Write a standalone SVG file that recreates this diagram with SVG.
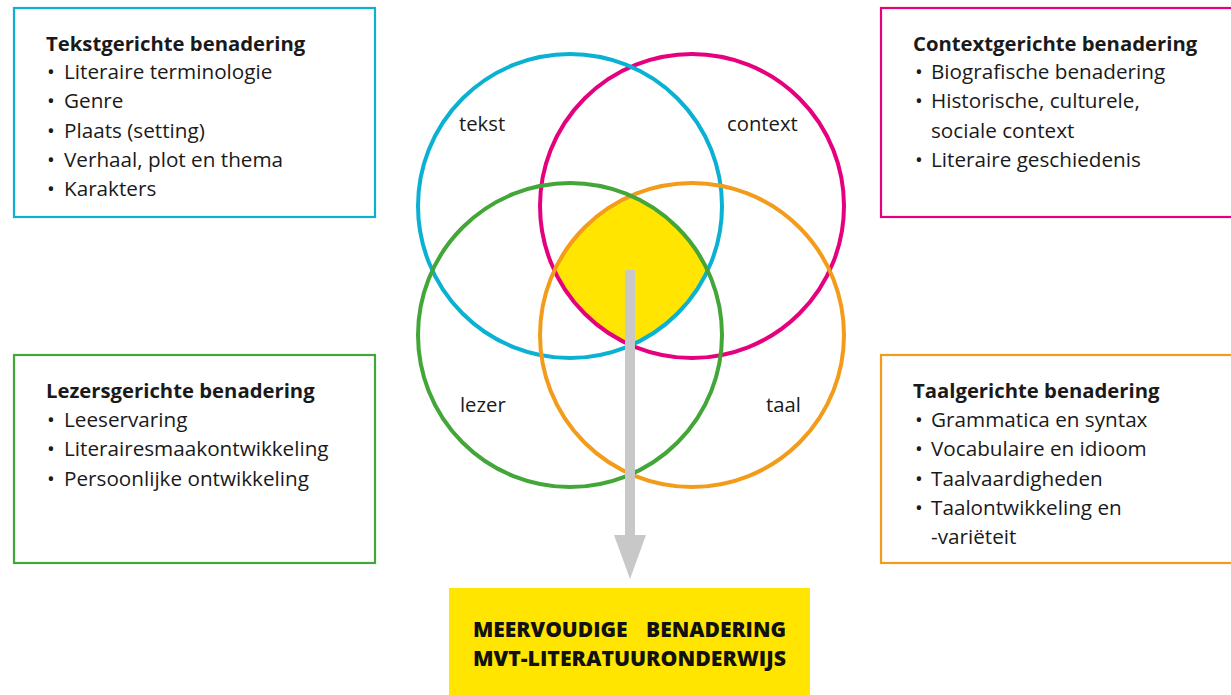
<svg xmlns="http://www.w3.org/2000/svg" width="1231" height="695" viewBox="0 0 1231 695">
  <style>
    text { font-family: "Open Sans", "Noto Sans", "Liberation Sans", sans-serif; fill: #1a1a1a; }
    .box { fill: #ffffff; stroke-width: 2.2; }
    .title { font-size: 20.3px; font-weight: 700; }
    .item { font-size: 20.7px; }
    .lbl { font-size: 20.3px; }
    .ring { fill: none; stroke-width: 4; }
    .big { font-size: 21px; font-weight: 800; fill: #111; }
  </style>
  <defs>
    <clipPath id="cTekst"><circle cx="570" cy="206" r="152"/></clipPath>
    <clipPath id="cContext" clip-path="url(#cTekst)"><circle cx="692" cy="206" r="152"/></clipPath>
    <clipPath id="cLezer" clip-path="url(#cContext)"><circle cx="570" cy="335" r="152"/></clipPath>
    <clipPath id="cCore" clip-path="url(#cLezer)"><circle cx="692" cy="335" r="152"/></clipPath>
  </defs>

  <rect width="1231" height="695" fill="#ffffff"/>

  <!-- shared core of the four approaches -->
  <g id="core">
    <rect x="400" y="40" width="460" height="460" fill="#FFE500" clip-path="url(#cCore)"/>
  </g>

  <!-- four overlapping approach circles -->
  <g id="venn">
    <g id="circle-context"><circle class="ring" cx="692" cy="206" r="152" stroke="#E5007E"/>
      <text class="lbl" x="727" y="131">context</text></g>
    <g id="circle-tekst"><circle class="ring" cx="570" cy="206" r="152" stroke="#0BB1D3"/>
      <text class="lbl" x="459" y="131">tekst</text></g>
    <g id="circle-taal"><circle class="ring" cx="692" cy="335" r="152" stroke="#F39C1B"/>
      <text class="lbl" x="766" y="412">taal</text></g>
    <g id="circle-lezer"><circle class="ring" cx="570" cy="335" r="152" stroke="#43A638"/>
      <text class="lbl" x="460" y="412">lezer</text></g>
  </g>

  <!-- connector from the core to the result -->
  <g id="connectors">
    <rect x="625" y="270" width="10" height="266" fill="#C8C8C8"/>
    <polygon points="614,535 646,535 630,579" fill="#C8C8C8"/>
  </g>

  <g id="box-tekst">
    <rect class="box" x="14" y="8" width="361" height="209" stroke="#0BB1D3"/>
    <text class="title" x="46" y="51">Tekstgerichte benadering</text>
    <g class="item">
      <text x="47" y="79">•</text><text x="64" y="79">Literaire terminologie</text>
      <text x="47" y="108">•</text><text x="64" y="108">Genre</text>
      <text x="47" y="138">•</text><text x="64" y="138">Plaats (setting)</text>
      <text x="47" y="167">•</text><text x="64" y="167">Verhaal, plot en thema</text>
      <text x="47" y="196">•</text><text x="64" y="196">Karakters</text>
    </g>
  </g>

  <g id="box-context">
    <rect class="box" x="881" y="8" width="360" height="209" stroke="#E5007E"/>
    <text class="title" x="913" y="51">Contextgerichte benadering</text>
    <g class="item">
      <text x="915" y="79">•</text><text x="931" y="79">Biografische benadering</text>
      <text x="915" y="108">•</text><text x="931" y="108">Historische, culturele,</text>
      <text x="931" y="138">sociale context</text>
      <text x="915" y="167">•</text><text x="931" y="167">Literaire geschiedenis</text>
    </g>
  </g>

  <g id="box-lezer">
    <rect class="box" x="14" y="355" width="361" height="208" stroke="#43A638"/>
    <text class="title" x="46" y="398">Lezersgerichte benadering</text>
    <g class="item">
      <text x="47" y="427">•</text><text x="64" y="427">Leeservaring</text>
      <text x="47" y="456">•</text><text x="64" y="456">Literairesmaakontwikkeling</text>
      <text x="47" y="486">•</text><text x="64" y="486">Persoonlijke ontwikkeling</text>
    </g>
  </g>

  <g id="box-taal">
    <rect class="box" x="881" y="355" width="360" height="208" stroke="#F39C1B"/>
    <text class="title" x="913" y="398">Taalgerichte benadering</text>
    <g class="item">
      <text x="915" y="427">•</text><text x="931" y="427">Grammatica en syntax</text>
      <text x="915" y="456">•</text><text x="931" y="456">Vocabulaire en idioom</text>
      <text x="915" y="486">•</text><text x="931" y="486">Taalvaardigheden</text>
      <text x="915" y="515">•</text><text x="931" y="515">Taalontwikkeling en</text>
      <text x="931" y="544">-variëteit</text>
    </g>
  </g>

  <g id="result">
    <rect x="449" y="588" width="361" height="107" fill="#FFE500"/>
    <text class="big" x="473" y="637">MEERVOUDIGE</text>
    <text class="big" x="786" y="637" text-anchor="end">BENADERING</text>
    <text class="big" x="473" y="666" textLength="313" lengthAdjust="spacingAndGlyphs">MVT-LITERATUURONDERWIJS</text>
  </g>
</svg>
